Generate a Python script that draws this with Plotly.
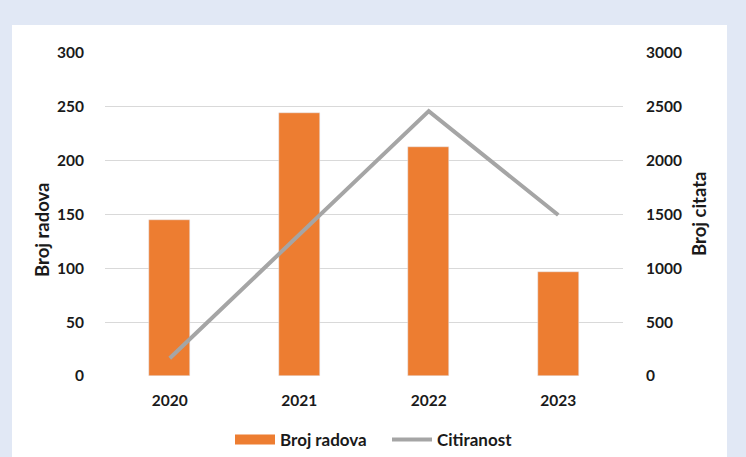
import plotly.graph_objects as go

years = ["2020", "2021", "2022", "2023"]
broj_radova = [145, 244, 213, 97]
citiranost = [165, 1315, 2460, 1495]

left_ticks = [0, 50, 100, 150, 200, 250, 300]
right_ticks = [0, 500, 1000, 1500, 2000, 2500, 3000]

ORANGE = "#ED7D31"
GRAY = "#A5A5A5"
TEXT = "#1a1a1a"
FONT = "Lato"

W, H = 746, 457
L, R, T, B = 105, 123, 53, 81
pw, ph = W - L - R, H - T - B

def px_x(x):
    return (x - L) / pw

def px_y(y):
    return (H - B - y) / ph

fig = go.Figure()
fig.add_trace(go.Bar(x=years, y=broj_radova, name="Broj radova", marker_color=ORANGE,
                     width=0.314, showlegend=False, yaxis="y"))
fig.add_trace(go.Scatter(x=[None], y=[None], mode="lines", name="Broj radova",
                         line=dict(color=ORANGE, width=10), showlegend=True))
fig.add_trace(go.Scatter(x=years, y=citiranost, mode="lines", name="Citiranost",
                         line=dict(color=GRAY, width=4), yaxis="y2"))

tickfont = dict(family=FONT, size=15.5, color=TEXT, weight="bold")
legendfont = dict(family=FONT, size=17, color=TEXT, weight="bold")
titlefont = dict(family=FONT, size=18.5, color=TEXT, weight="bold")

fig.update_layout(
    width=W, height=H,
    margin=dict(l=L, r=R, t=T, b=B, pad=0, autoexpand=False),
    paper_bgcolor="#E1E8F5",
    plot_bgcolor="white",
    font=dict(family=FONT, size=15, color=TEXT),
    bargap=0,
    xaxis=dict(type="category", showgrid=False, showline=False, zeroline=False,
               tickfont=tickfont, ticks="outside", ticklen=10, tickcolor="rgba(0,0,0,0)",
               automargin=False),
    yaxis=dict(range=[0, 300], tickvals=left_ticks, showgrid=True, gridcolor="#D9D9D9",
               gridwidth=1, zeroline=False, showline=False, tickfont=tickfont,
               ticks="outside", ticklen=17, tickcolor="rgba(0,0,0,0)", automargin=False),
    yaxis2=dict(range=[0, 3000], tickvals=right_ticks, overlaying="y", side="right",
                showgrid=False, zeroline=False, showline=False, tickfont=tickfont,
                ticks="outside", ticklen=19, tickcolor="rgba(0,0,0,0)", automargin=False),
    legend=dict(orientation="h", x=px_x(230), xanchor="left", y=px_y(440), yanchor="middle",
                font=legendfont, bgcolor="rgba(0,0,0,0)", itemwidth=40, tracegroupgap=0,
                entrywidth=102, entrywidthmode="pixels"),
    shapes=[dict(type="rect", xref="paper", yref="paper", layer="below",
                 x0=px_x(12), x1=px_x(727), y0=px_y(470), y1=px_y(25),
                 fillcolor="white", line=dict(width=0))],
    annotations=[
        dict(text="Broj radova", xref="paper", yref="paper", x=px_x(42), y=px_y(230),
             xanchor="center", yanchor="middle",
             textangle=-90, showarrow=False, font=titlefont),
        dict(text="Broj citata", xref="paper", yref="paper", x=px_x(699), y=px_y(214),
             xanchor="center", yanchor="middle",
             textangle=-90, showarrow=False, font=titlefont),
    ],
)

fig.write_html("out.html", config=dict(displayModeBar=False),
               post_script="document.body.style.margin='0';document.body.style.padding='0';document.body.style.overflow='hidden';")
